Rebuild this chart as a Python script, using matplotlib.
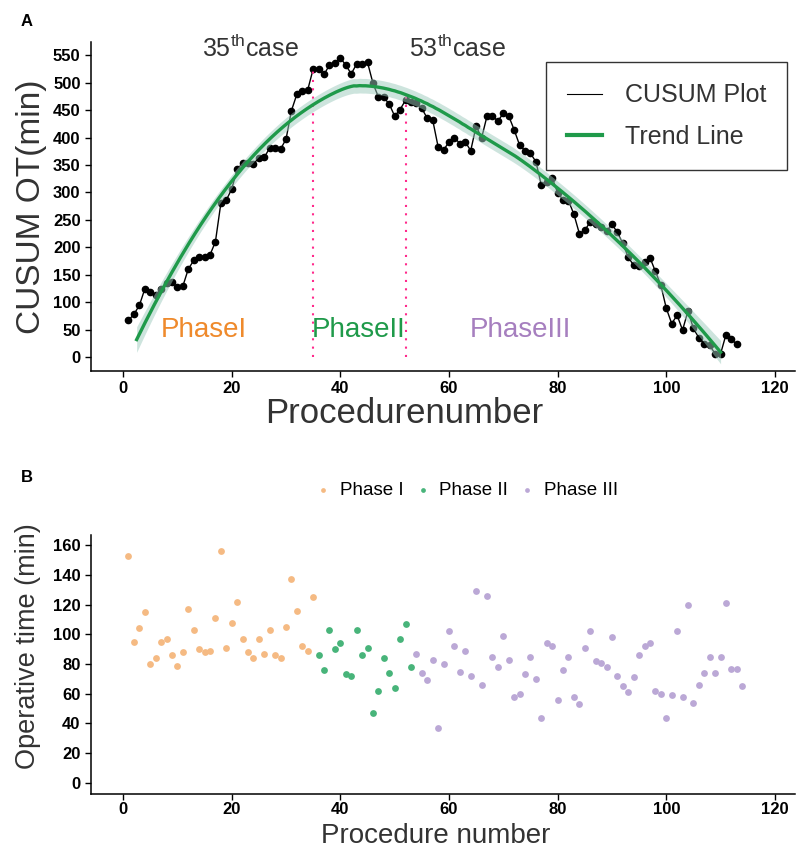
import numpy as np
import matplotlib
matplotlib.use('Agg')
import matplotlib.pyplot as plt
from matplotlib.lines import Line2D

plt.rcParams['font.family'] = ['Liberation Sans', 'DejaVu Sans']
plt.rcParams['mathtext.fontset'] = 'custom'
plt.rcParams['mathtext.rm'] = 'Liberation Sans'

# CUSUM of operative time, cases 1..113
cusum = [67, 78, 94, 124, 118, 113, 124, 134, 136, 127,
         129, 160, 176, 182, 182, 186, 210, 280, 286, 306,
         342, 353, 354, 352, 363, 364, 381, 381, 379, 397,
         449, 479, 484, 487, 525, 525, 515, 532, 535, 545,
         532, 516, 534, 534, 537, 499, 474, 473, 461, 439,
         451, 468, 464, 462, 453, 435, 432, 383, 377, 392,
         400, 389, 392, 376, 421, 399, 439, 439, 430, 444,
         439, 414, 386, 376, 371, 356, 313, 319, 327, 299,
         287, 285, 260, 225, 231, 246, 242, 237, 229, 242,
         227, 207, 182, 167, 166, 173, 181, 156, 131, 89,
         61, 76, 49, 84, 52, 35, 24, 21, 6, 6,
         41, 32, 23]

# operative time (min) per phase
phase1 = [153, 95, 104, 115, 80, 84, 95, 97, 86, 79, 88, 117, 103, 90, 88,
          89, 111, 156, 91, 108, 122, 97, 88, 84, 97, 87, 103, 86, 84, 105,
          137, 116, 92, 89, 125]
phase2 = [86, 76, 103, 90, 94, 73, 72, 103, 86, 91, 47, 62, 84, 74, 64, 97,
          107, 78]
phase3 = [87, 74, 69, 83, 37, 80, 102, 92, 75, 89, 72, 129, 66, 126, 85, 78,
          99, 83, 58, 60, 73, 85, 70, 44, 94, 92, 56, 76, 85, 58, 53, 91, 102,
          82, 81, 78, 98, 72, 65, 61, 71, 86, 92, 94, 62, 60, 44, 59, 102, 58,
          120, 54, 66, 74, 85, 74, 85, 121, 77, 77, 65]

cut1, cut2 = 35, 52
xticks = [0, 20, 40, 60, 80, 100, 120]


def loess_rows(x, xq, span=0.75):
    # local quadratic smoother with tricube weights (like geom_smooth)
    n = len(x)
    k = int(np.floor(span * n))
    rows = []
    for x0 in xq:
        d = np.abs(x - x0)
        h = np.sort(d)[k - 1]
        w = np.clip(1 - (d / h) ** 3, 0, None) ** 3
        X = np.column_stack([np.ones(n), x - x0, (x - x0) ** 2])
        A = X.T @ (w[:, None] * X)
        rows.append(np.linalg.solve(A, X.T * w)[0])
    return np.array(rows)


fig = plt.figure(figsize=(7.97, 8.49), dpi=100)
ax1 = fig.add_axes([0.1142, 0.563, 0.8833, 0.3875])
ax2 = fig.add_axes([0.1142, 0.0648, 0.8833, 0.3051])

#%% panel A
x = np.arange(1, len(cusum) + 1, dtype=float)
y = np.array(cusum, dtype=float)
xf = np.linspace(2.5, 110, 200)
Lf = loess_rows(x, xf)
Ld = loess_rows(x, x)
yf = Lf @ y
res = y - Ld @ y
sigma = np.sqrt(np.sum(res ** 2) / (len(x) - np.trace(Ld)))
se = sigma * np.sqrt(np.sum(Lf ** 2, axis=1))

ax1.plot(x, cusum, color='black', lw=1, marker='o', ms=4.5, zorder=2)
ax1.fill_between(xf, yf - 1.98 * se, yf + 1.98 * se, color='#9ccabd',
                 alpha=0.5, lw=0, zorder=3)
ax1.plot(xf, yf, color='#1f9a4a', lw=2.4, zorder=4)

ax1.vlines([cut1], 0, 525, colors='#ff2a8c', linestyles=(0, (1, 3)), lw=1.5)
ax1.vlines([cut2], 0, 480, colors='#ff2a8c', linestyles=(0, (1, 3)), lw=1.5)

ax1.text(14.9, 50, 'PhaseI', color='#ef8a2c', fontsize=20, ha='center', va='center')
ax1.text(43.4, 50, 'PhaseII', color='#1f9a4a', fontsize=20, ha='center', va='center')
ax1.text(73.2, 50, 'PhaseIII', color='#a67fbf', fontsize=20, ha='center', va='center')

ax1.text(23.5, 562, r'35$^{\rm th}$case', fontsize=18, color='#333333',
         ha='center', va='center', clip_on=False)
ax1.text(61.6, 562, r'53$^{\rm th}$case', fontsize=18, color='#333333',
         ha='center', va='center', clip_on=False)

handles = [Line2D([], [], color='black', lw=0.8),
           Line2D([], [], color='#1f9a4a', lw=3)]
leg = ax1.legend(handles, ['CUSUM Plot', 'Trend Line'], loc='upper right',
                 bbox_to_anchor=(0.989, 0.939), borderaxespad=0, fontsize=18,
                 frameon=True, fancybox=False, edgecolor='black',
                 handlelength=1.4, handletextpad=0.9, borderpad=0.85,
                 labelspacing=0.7)
leg.get_frame().set_linewidth(1)
for t in leg.get_texts():
    t.set_color('#333333')

ax1.set_xlim(-5.9, 123.7)
ax1.set_ylim(-25.5, 574)
ax1.set_xticks(xticks)
ax1.set_yticks(range(0, 551, 50))
ax1.set_xlabel('Procedurenumber', fontsize=25, color='#333333')
ax1.xaxis.set_label_coords(0.445, -0.08)
ax1.set_ylabel('CUSUM OT(min)', fontsize=24, color='#333333', labelpad=4)

#%% panel B
x1 = np.arange(1, len(phase1) + 1)
x2 = np.arange(len(phase1) + 1, len(phase1) + len(phase2) + 1)
x3 = np.arange(len(phase1) + len(phase2) + 1,
               len(phase1) + len(phase2) + len(phase3) + 1)
ax2.scatter(x1, phase1, s=24, color='#f5ba83', lw=0, label='Phase I')
ax2.scatter(x2, phase2, s=24, color='#48b47a', lw=0, label='Phase II')
ax2.scatter(x3, phase3, s=24, color='#bba8d6', lw=0, label='Phase III')

ax2.legend(loc='center', bbox_to_anchor=(0.534, 1.173), ncol=3, frameon=False,
           fontsize=13.5, markerscale=0.7, handlelength=0.8,
           handletextpad=0.5, columnspacing=0.6)

ax2.set_xlim(-5.9, 123.7)
ax2.set_ylim(-7.5, 167)
ax2.set_xticks(xticks)
ax2.set_yticks(range(0, 161, 20))
ax2.set_xlabel('Procedure number', fontsize=20, color='#333333')
ax2.xaxis.label.set_verticalalignment('baseline')
ax2.xaxis.set_label_coords(0.489, -0.1892)
ax2.set_ylabel('Operative time (min)', fontsize=19.5, color='#333333')
ax2.yaxis.set_label_coords(-0.071, 0.57)

for ax in (ax1, ax2):
    ax.spines['top'].set_visible(False)
    ax.spines['right'].set_visible(False)
    ax.spines['left'].set_linewidth(1.1)
    ax.spines['bottom'].set_linewidth(1.1)
    ax.tick_params(direction='out', length=4, width=1, labelsize=12,
                   colors='black')
    plt.setp(ax.get_xticklabels() + ax.get_yticklabels(), fontweight='bold')
ax2.tick_params(axis='x', pad=2)

fig.text(27 / 797, 1 - 22 / 849, 'A', fontsize=12, fontweight='bold',
         ha='center', va='center')
fig.text(27 / 797, 1 - 478 / 849, 'B', fontsize=12, fontweight='bold',
         ha='center', va='center')

fig.savefig('out.png', dpi=100)
